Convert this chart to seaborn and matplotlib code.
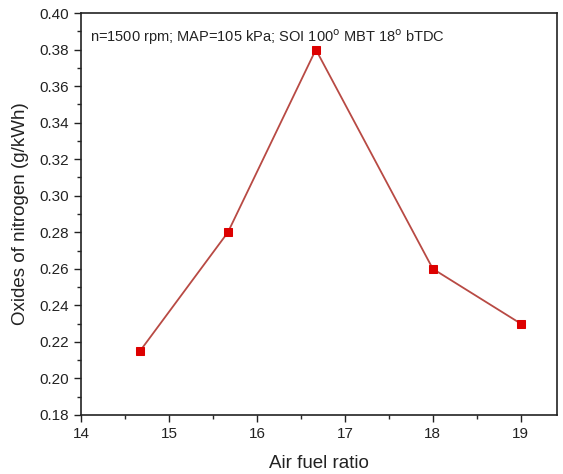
import numpy as np
import pandas as pd
import matplotlib
matplotlib.use('Agg')
import matplotlib.pyplot as plt
import seaborn as sns
from matplotlib.ticker import MultipleLocator

# data
afr = [14.67, 15.67, 16.67, 18.0, 19.0]
nox = [0.215, 0.28, 0.38, 0.26, 0.23]

sns.set_style('ticks')
plt.rcParams['font.family'] = ['Liberation Sans', 'DejaVu Sans']

df = pd.DataFrame({'afr': afr, 'nox': nox})

fig = plt.figure(figsize=(5.63, 4.74), dpi=100)
ax = fig.add_axes([0.144, 0.1245, 0.845, 0.848])
sns.lineplot(data=df, x='afr', y='nox', ax=ax, color='#b84a44', linewidth=1.3,
             marker='s', markersize=6, markerfacecolor='#dd0000',
             markeredgecolor='#dd0000')

ax.set_xlim(14, 19.41)
ax.set_ylim(0.18, 0.40)
ax.xaxis.set_major_locator(MultipleLocator(1))
ax.xaxis.set_minor_locator(MultipleLocator(0.5))
ax.yaxis.set_major_locator(MultipleLocator(0.02))
ax.yaxis.set_minor_locator(MultipleLocator(0.01))
ax.yaxis.set_major_formatter(matplotlib.ticker.FormatStrFormatter('%.2f'))
ax.tick_params(which='major', direction='out', length=5, width=1, labelsize=11, colors='#222222')
ax.tick_params(which='minor', direction='out', length=3, width=1)
for s in ax.spines.values():
    s.set_linewidth(1.2)
    s.set_color('#222222')

ax.set_xlabel('Air fuel ratio', fontsize=13.5, color='#222222', labelpad=10)
ax.set_ylabel('Oxides of nitrogen (g/kWh)', fontsize=13.5, color='#222222', labelpad=8)
ax.text(0.018, 0.965, 'n=1500 rpm; MAP=105 kPa; SOI 100$^\\mathrm{o}$ MBT 18$^\\mathrm{o}$ bTDC',
        transform=ax.transAxes, fontsize=10.5, va='top', ha='left', color='#222222')

plt.savefig('out.png', dpi=100)
